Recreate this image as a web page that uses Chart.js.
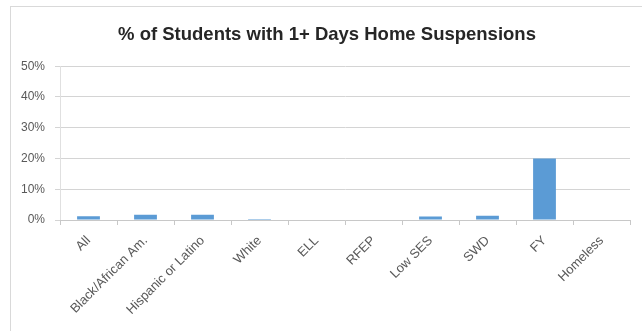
<!DOCTYPE html>
<html>
<head>
<meta charset="utf-8">
<script src="https://cdn.jsdelivr.net/npm/chart.js@4"></script>
<style>
    html, body { margin: 0; padding: 0; background: #fff; }
    #wrap { position: relative; width: 642px; height: 331px; overflow: hidden; }
    #frame { position: absolute; left: 10px; top: 6px; width: 660px; height: 360px; border: 1px solid #d9d9d9; box-sizing: border-box; }
    #suspChart { position: absolute; left: 0; top: 0; }
</style>
</head>
<body>
<div id="wrap">
    <div id="frame"></div>
    <canvas id="suspChart" width="642" height="331"></canvas>
</div>
<script>
// Data
const categories = ['All', 'Black/African Am.', 'Hispanic or Latino', 'White', 'ELL', 'RFEP', 'Low SES', 'SWD', 'FY', 'Homeless'];
const suspensionPct = [1.2, 1.7, 1.7, 0.3, 0, 0, 1.1, 1.4, 20, 0];
const yTicks = [0, 10, 20, 30, 40, 50];

const ctx = document.getElementById('suspChart').getContext('2d');
const suspChart = new Chart(ctx, {
    type: 'bar',
    data: {
        labels: categories,
        datasets: [{
            label: '% of Students',
            data: suspensionPct,
            backgroundColor: '#5b9bd5',
            borderWidth: 0,
            barPercentage: 0.4,
            categoryPercentage: 1.0
        }]
    },
    options: {
        responsive: false,
        animation: false,
        layout: {
            padding: { left: 12, right: 0, top: 24, bottom: 0 }
        },
        plugins: {
            legend: { display: false },
            tooltip: { enabled: false },
            title: {
                display: true,
                text: '% of Students with 1+ Days Home Suspensions',
                color: '#262626',
                font: { family: 'Liberation Sans', size: 18.5, weight: 'bold' },
                padding: { top: 0, bottom: 20 }
            }
        },
        scales: {
            y: {
                min: 0,
                max: 50,
                afterBuildTicks: function (scale) {
                    scale.ticks = yTicks.map(v => ({ value: v }));
                },
                afterFit: function (scale) {
                    scale.width = 48;
                },
                ticks: {
                    color: '#595959',
                    font: { family: 'Liberation Sans', size: 12 },
                    padding: 10,
                    callback: function (value) {
                        return value + '%';
                    }
                },
                grid: {
                    color: '#d4d4d4',
                    tickLength: 5
                },
                border: { color: '#e0e0e0' }
            },
            // empty right-hand spacer so the plot ends at the same place as the grid in the original
            yRight: {
                position: 'right',
                min: 0,
                max: 50,
                afterFit: function (scale) {
                    scale.width = 12;
                },
                ticks: { display: false },
                grid: { display: false },
                border: { display: false }
            },
            x: {
                afterFit: function (scale) {
                    scale.height = 111;
                },
                ticks: {
                    color: '#595959',
                    font: { family: 'Liberation Sans', size: 13 },
                    minRotation: 45,
                    maxRotation: 45,
                    autoSkip: false,
                    padding: 8
                },
                grid: {
                    offset: true,
                    drawOnChartArea: false,
                    color: '#c8c8c8',
                    tickLength: 5
                },
                border: { color: '#c8c8c8' }
            }
        }
    }
});
</script>
</body>
</html>
